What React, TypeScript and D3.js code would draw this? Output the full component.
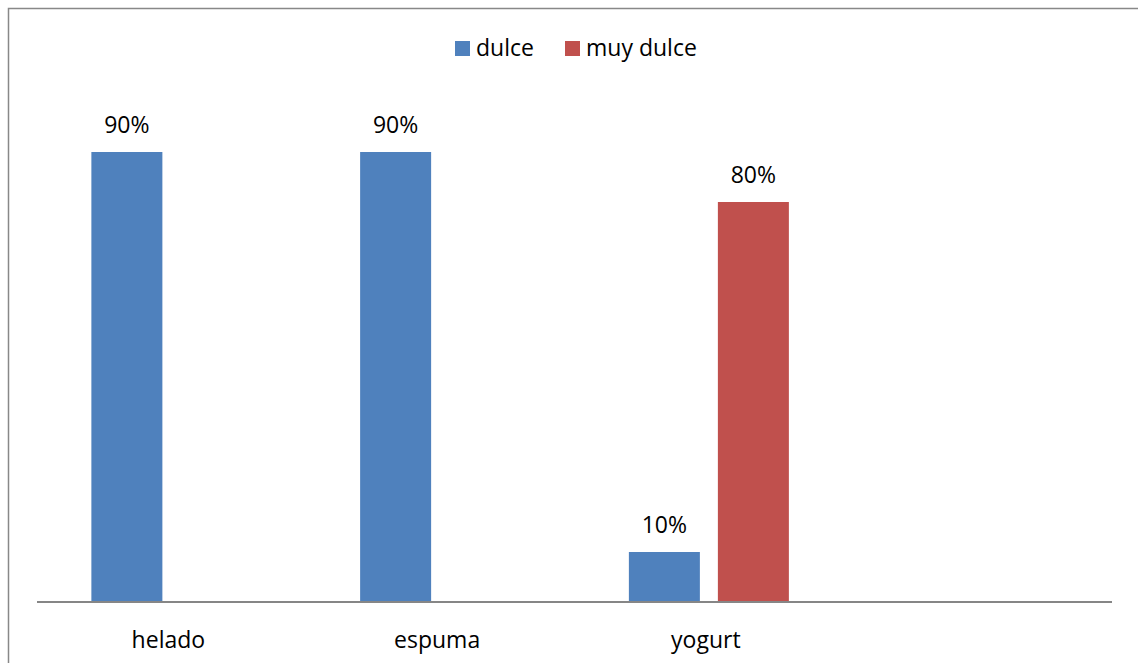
import React from "react";
import * as d3 from "d3";

const categories = ["helado", "espuma", "yogurt", ""];
const seriesNames = ["dulce", "muy dulce"];
const dulce: (number | null)[] = [0.9, 0.9, 0.1, null];
const muyDulce: (number | null)[] = [null, null, 0.8, null];
const seriesColors = ["#4F81BD", "#C0504D"];

const W = 1138;
const H = 663;
const FONT = "'Open Sans', 'Noto Sans', sans-serif";
const FS = 23;

export default function App() {
  const x0 = d3.scaleBand<string>().domain(categories.map((c, i) => String(i))).range([37, 1112]);
  const step = 89;
  const outer = (x0.bandwidth() - 2 * step + 18) / 2 / step;
  const x1 = d3
    .scaleBand<string>()
    .domain(seriesNames)
    .range([0, x0.bandwidth()])
    .paddingInner(18 / step)
    .paddingOuter(outer);
  const y = d3.scaleLinear().domain([0, 1]).range([602, 102]);
  const pct = d3.format(".0%");

  const values = [dulce, muyDulce];
  const bars = categories.flatMap((cat, i) =>
    seriesNames.map((s, k) => ({ i, s, k, v: values[k][i] }))
  ).filter((b) => b.v != null) as { i: number; s: string; k: number; v: number }[];

  return (
    <svg
      width={W}
      height={H}
      style={{ position: "absolute", left: 0, top: 0, background: "#fff" }}
      fontFamily={FONT}
    >
      <rect x={8.5} y={8.5} width={W + 20} height={H + 20} fill="#fff" stroke="#888" strokeWidth={1.5} />

      {/* legend */}
      {seriesNames.map((s, k) => {
        const lx = [455, 565][k];
        return (
          <g key={s}>
            <rect x={lx} y={41} width={15} height={15} fill={seriesColors[k]} />
            <text x={lx + 21} y={55.5} fontSize={FS} fill="#000">
              {s}
            </text>
          </g>
        );
      })}

      {/* bars */}
      {bars.map((b) => {
        const bx = (x0(String(b.i)) ?? 0) + (x1(b.s) ?? 0);
        return (
          <g key={`${b.i}-${b.s}`}>
            <rect
              x={bx}
              y={y(b.v)}
              width={x1.bandwidth()}
              height={y(0) - y(b.v)}
              fill={seriesColors[b.k]}
            />
            <text
              x={bx + x1.bandwidth() / 2}
              y={y(b.v) - 19}
              textAnchor="middle"
              fontSize={FS}
              fill="#000"
            >
              {pct(b.v)}
            </text>
          </g>
        );
      })}

      {/* category axis */}
      <line x1={37} x2={1112} y1={602} y2={602} stroke="#868686" strokeWidth={2} />
      {categories.map((c, i) => (
        <text
          key={i}
          x={(x0(String(i)) ?? 0) + x0.bandwidth() / 2 - 3}
          y={648}
          textAnchor="middle"
          fontSize={FS}
          fill="#000"
        >
          {c}
        </text>
      ))}
    </svg>
  );
}
